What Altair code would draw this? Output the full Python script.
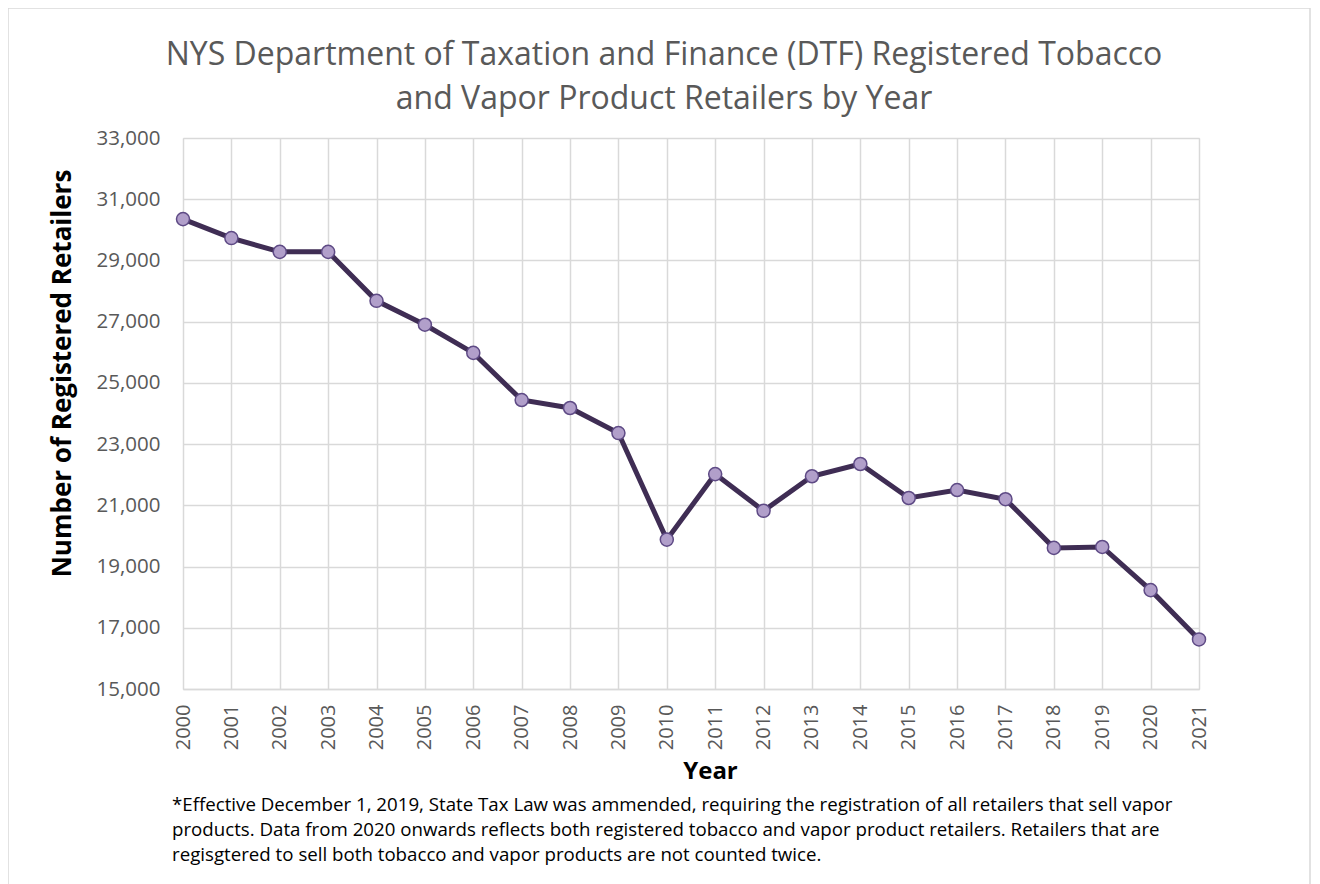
import altair as alt
import pandas as pd

years = [str(y) for y in range(2000, 2022)]
retailers = [30350, 29730, 29280, 29280, 27680, 26900, 25980, 24440, 24180, 23360,
             19880, 22020, 20820, 21950, 22350, 21240, 21500, 21200, 19610, 19640,
             18230, 16620]
y_ticks = [15000, 17000, 19000, 21000, 23000, 25000, 27000, 29000, 31000, 33000]
title_lines = ["NYS Department of Taxation and Finance (DTF) Registered Tobacco",
               "and Vapor Product Retailers by Year"]
footnote_lines = [
    "*Effective December 1, 2019, State Tax Law was ammended, requiring the registration of all retailers that sell vapor",
    "products.  Data from 2020 onwards reflects both registered tobacco and vapor product retailers.  Retailers that are",
    "regisgtered to sell both tobacco and vapor products are not counted twice.",
]

df = pd.DataFrame({"Year": years, "Retailers": retailers})

FONT = "Open Sans"
GRAY = "#595959"
GRID = "#d9d9d9"

x_enc = alt.X("Year:O", sort=None,
              scale=alt.Scale(type="point", padding=0),
              axis=alt.Axis(title="Year", labelAngle=-90, labelFontSize=20,
                            labelColor=GRAY, labelFont=FONT, labelPadding=15,
                            ticks=False, domainColor=GRID, domainWidth=1.5,
                            grid=True, gridColor=GRID, gridWidth=1.5,
                            titleFont=FONT, titleFontSize=24, titleFontWeight="bold",
                            titleColor="black", titleX=527, titleY=82,
                            titleBaseline="middle", titleAnchor="middle"))
y_enc = alt.Y("Retailers:Q",
              scale=alt.Scale(domain=[15000, 33000], nice=False, zero=False),
              axis=alt.Axis(title="Number of Registered Retailers", values=y_ticks,
                            format=",d", labelFontSize=20.5, labelColor=GRAY,
                            labelFont=FONT, labelPadding=23, ticks=False,
                            domain=False, grid=True, gridColor=GRID, gridWidth=1.5,
                            titleFont=FONT, titleFontSize=26, titleFontWeight="bold",
                            titleColor="black", titleAngle=-90, titleX=-121,
                            titleY=235, titleBaseline="middle", titleAlign="center"))

base = alt.Chart(df).encode(x=x_enc, y=y_enc)
line = base.mark_line(color="#3f2d54", strokeWidth=5)
points = base.mark_point(filled=True, fill="#b19fca", stroke="#5e4a85",
                         strokeWidth=1.5, size=170, opacity=1, shape="circle")

title = alt.Chart(pd.DataFrame({"t": ["\n".join(title_lines)]})).mark_text(
    align="center", baseline="alphabetic", lineBreak="\n", lineHeight=44,
    font=FONT, fontSize=32, color=GRAY).encode(
    text="t:N", x=alt.value(481), y=alt.value(-73))

note = alt.Chart(pd.DataFrame({"t": ["\n".join(footnote_lines)]})).mark_text(
    align="left", baseline="alphabetic", lineBreak="\n", lineHeight=25,
    font=FONT, fontSize=18.7, color="black").encode(
    text="t:N", x=alt.value(-11), y=alt.value(673))

border = alt.Chart(pd.DataFrame({"a": [0]})).mark_rect(
    fill=None, stroke="#d9d9d9", strokeWidth=1.5).encode(
    x=alt.value(-175), x2=alt.value(1127), y=alt.value(-130), y2=alt.value(760))

chart = alt.layer(border, line, points, title, note).properties(
    width=1016, height=551,
    autosize=alt.AutoSizeParams(type="none"),
    padding={"left": 175, "top": 130, "right": 113, "bottom": 195},
).configure_view(stroke=None).configure(background="white")

chart.save("out.html", embed_options={"renderer": "svg", "actions": False})
